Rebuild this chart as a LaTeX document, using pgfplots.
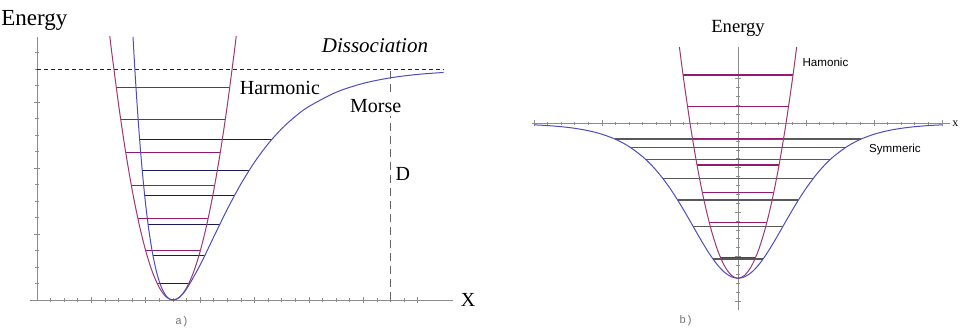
\documentclass[border=0pt]{standalone}
\usepackage{pgfplots}
\pgfplotsset{compat=1.18}
\usepackage{fontspec}
\setmainfont{Liberation Serif}
\newfontfamily\sansf{Liberation Sans}
\newfontfamily\monof{Liberation Mono}

\definecolor{harm}{rgb}{0.62,0.22,0.45}
\definecolor{harmlev}{rgb}{0.58,0.10,0.45}
\definecolor{morse}{rgb}{0.30,0.30,0.75}
\definecolor{navy}{rgb}{0.10,0.10,0.35}
\definecolor{axgray}{rgb}{0.55,0.55,0.55}

\pgfplotsset{
  qm/.style={
    axis lines=middle,
    axis line style={-, axgray, line width=0.5pt},
    tick style={axgray, line width=0.4pt},
    major tick length=3pt,
    minor tick length=1.6pt,
    tick align=center,
    xticklabels={}, yticklabels={},
    enlargelimits=false,
    clip=false,
    anchor=south west,
  },
  lev/.style={line width=0.5pt},
}

\begin{document}
\begin{tikzpicture}
\path[use as bounding box] (0,0) rectangle (480pt,164pt);

% ---- a) Morse vs harmonic
\begin{axis}[qm,
    at={(15.1pt,14pt)},
    x=6.8pt, y=8.25pt,
    xmin=-0.5, xmax=30.6, ymin=0, ymax=15.92,
    xtick={0,4,...,28}, minor x tick num=3,
    ytick={0,4,...,16}, minor y tick num=3,
]
% dissociation limit and depth
\addplot[navy, dashed, dash pattern=on 2pt off 1.5pt, line width=0.5pt] coordinates {(0,14) (29.9,14)};
\addplot[black!60, dash pattern=on 4pt off 2.5pt, line width=0.5pt] coordinates {(26,0) (26,14)};
% harmonic levels
\addplot[harmlev, lev] coordinates {(8.85,0.98) (11.15,0.98)};
\addplot[harmlev, lev] coordinates {(7.99,2.98) (12.01,2.98)};
\addplot[harmlev, lev] coordinates {(7.41,4.95) (12.59,4.95)};
\addplot[harmlev, lev] coordinates {(6.94,6.95) (13.06,6.95)};
\addplot[harmlev, lev] coordinates {(6.53,8.93) (13.47,8.93)};
\addplot[harmlev, lev] coordinates {(6.15,10.95) (13.85,10.95)};
\addplot[harmlev, lev] coordinates {(5.82,12.9) (14.18,12.9)};
% Morse levels
\addplot[navy, lev] coordinates {(9.05,0.98) (11.25,0.98)};
\addplot[navy, lev] coordinates {(8.53,2.67) (12.32,2.67)};
\addplot[navy, lev] coordinates {(8.17,4.56) (13.42,4.56)};
\addplot[navy, lev] coordinates {(7.92,6.32) (14.51,6.32)};
\addplot[navy, lev] coordinates {(7.74,7.86) (15.60,7.86)};
\addplot[navy, lev] coordinates {(7.54,9.74) (17.27,9.74)};
% harmonic potential
\addplot[harm, line width=0.5pt, smooth] coordinates {
  (5.35,16.0) (5.5,14.985) (6,11.84) (6.5,9.065) (7,6.66) (7.5,4.625)
  (8,2.96) (8.5,1.665) (9,0.74) (9.5,0.185) (10,0) (10.5,0.185) (11,0.74)
  (11.5,1.665) (12,2.96) (12.5,4.625) (13,6.66) (13.5,9.065) (14,11.84)
  (14.5,14.985) (14.65,16.0)
};
% Morse potential
\addplot[morse, line width=0.5pt, smooth] coordinates {
  (7.06,15.94) (7.25,13.24) (7.5,10.22) (7.75,7.73) (8,5.71) (8.25,4.09)
  (8.5,2.815) (8.75,1.832) (9,1.098) (9.25,0.580) (9.5,0.242) (9.75,0.057)
  (10,0) (10.25,0.050) (10.5,0.189) (11,0.671) (12,2.127) (13,3.834)
  (14,5.516) (15,7.042) (16,8.361) (17,9.471) (18,10.388) (19,11.131)
  (20,11.732) (22,12.593) (24,13.132) (26,13.468) (28,13.674) (29.9,13.79)
};
\node[font=\fontsize{11.5}{12}\selectfont, anchor=west, inner sep=0pt] at (axis cs:-2.65,16.97) {Energy};
\node[font=\fontsize{10.5}{12}\selectfont\itshape] at (axis cs:24.85,15.4) {Dissociation};
\node[font=\fontsize{10}{12}\selectfont, anchor=west] at (axis cs:14.4,12.85) {Harmonic};
\node[font=\fontsize{10}{12}\selectfont, fill=white, inner sep=1.5pt] at (axis cs:24.9,11.76) {Morse};
\node[font=\fontsize{10}{12}\selectfont] at (axis cs:26.9,7.64) {D};
\node[font=\fontsize{10}{12}\selectfont] at (axis cs:31.7,0) {X};
\node[font=\fontsize{5.5}{6}\monof, text=black!55] at (axis cs:10.66,-1.3) {a)};
\end{axis}

% ---- b) symmetric well vs harmonic
\begin{axis}[qm,
    at={(266pt,9pt)},
    x=6.8pt, y=4.445pt,
    xmin=-15.15, xmax=15.6, ymin=-21, ymax=8.6,
    xtick={-15,-10,...,15}, minor x tick num=4,
    ytick={-20,-15,...,5}, minor y tick num=4,
]
% levels of the symmetric well
\addplot[black!65, line width=0.75pt] coordinates {(-9.04,-1.78) (9.04,-1.78)};
\addplot[black!65, line width=0.75pt] coordinates {(-7.87,-2.74) (7.87,-2.74)};
\addplot[black!65, line width=0.75pt] coordinates {(-6.83,-4.05) (6.83,-4.05)};
\addplot[black!65, line width=0.75pt] coordinates {(-5.54,-6.19) (5.54,-6.19)};
\addplot[black!65, line width=0.75pt] coordinates {(-4.44,-8.63) (4.44,-8.63)};
\addplot[black!65, line width=0.75pt] coordinates {(-3.32,-11.63) (3.32,-11.63)};
\addplot[black!65, line width=0.75pt] coordinates {(-1.82,-15.27) (1.82,-15.27)};
% harmonic levels
\addplot[harmlev, line width=0.7pt] coordinates {(-4.04,5.43) (4.04,5.43)};
\addplot[harmlev, line width=0.7pt] coordinates {(-3.714,1.88) (3.714,1.88)};
\addplot[harmlev, line width=0.7pt] coordinates {(-3.353,-1.69) (3.353,-1.69)};
\addplot[harmlev, line width=0.7pt] coordinates {(-3.017,-4.69) (3.017,-4.69)};
\addplot[harmlev, line width=0.7pt] coordinates {(-2.627,-7.77) (2.627,-7.77)};
\addplot[harmlev, line width=0.7pt] coordinates {(-2.115,-11.17) (2.115,-11.17)};
\addplot[harmlev, line width=0.7pt] coordinates {(-1.29,-15.1) (1.29,-15.1)};
% harmonic potential
\addplot[harm, line width=0.5pt, smooth] coordinates {
  (-4.31,8.58) (-4,4.97) (-3.5,-0.28) (-3,-4.83) (-2.5,-8.68) (-2,-11.83)
  (-1.5,-14.28) (-1,-16.03) (-0.5,-17.08) (0,-17.43) (0.5,-17.08) (1,-16.03)
  (1.5,-14.28) (2,-11.83) (2.5,-8.68) (3,-4.83) (3.5,-0.28) (4,4.97) (4.31,8.58)
};
% symmetric well
\addplot[morse, line width=0.5pt, smooth] coordinates {
  (-15,-0.172) (-14,-0.256) (-13,-0.380) (-12,-0.564) (-11,-0.835) (-10,-1.231)
  (-9,-1.805) (-8,-2.624) (-7,-3.768) (-6.5,-4.487) (-6,-5.316) (-5.5,-6.261)
  (-5,-7.320) (-4.5,-8.487) (-4,-9.744) (-3.5,-11.063) (-3,-12.403)
  (-2.5,-13.708) (-2,-14.914) (-1.5,-15.951) (-1,-16.751) (-0.5,-17.257)
  (0,-17.43) (0.5,-17.257) (1,-16.751) (1.5,-15.951) (2,-14.914)
  (2.5,-13.708) (3,-12.403) (3.5,-11.063) (4,-9.744) (4.5,-8.487) (5,-7.320)
  (5.5,-6.261) (6,-5.316) (6.5,-4.487) (7,-3.768) (8,-2.624) (9,-1.805)
  (10,-1.231) (11,-0.835) (12,-0.564) (13,-0.380) (14,-0.256) (15,-0.172)
};
\node[font=\fontsize{9.3}{11}\selectfont] at (axis cs:0,10.72) {Energy};
\node[font=\fontsize{5.8}{7}\sansf] at (axis cs:6.43,6.9) {Hamonic};
\node[font=\fontsize{5.8}{7}\sansf] at (axis cs:11.54,-3.0) {Symmeric};
\node[font=\fontsize{6}{7}\selectfont, anchor=west, inner sep=0.5pt] at (axis cs:15.65,0) {x};
\node[font=\fontsize{5.5}{6}\monof, text=black!55] at (axis cs:-3.82,-22.2) {b)};
\end{axis}
\end{tikzpicture}
\end{document}
